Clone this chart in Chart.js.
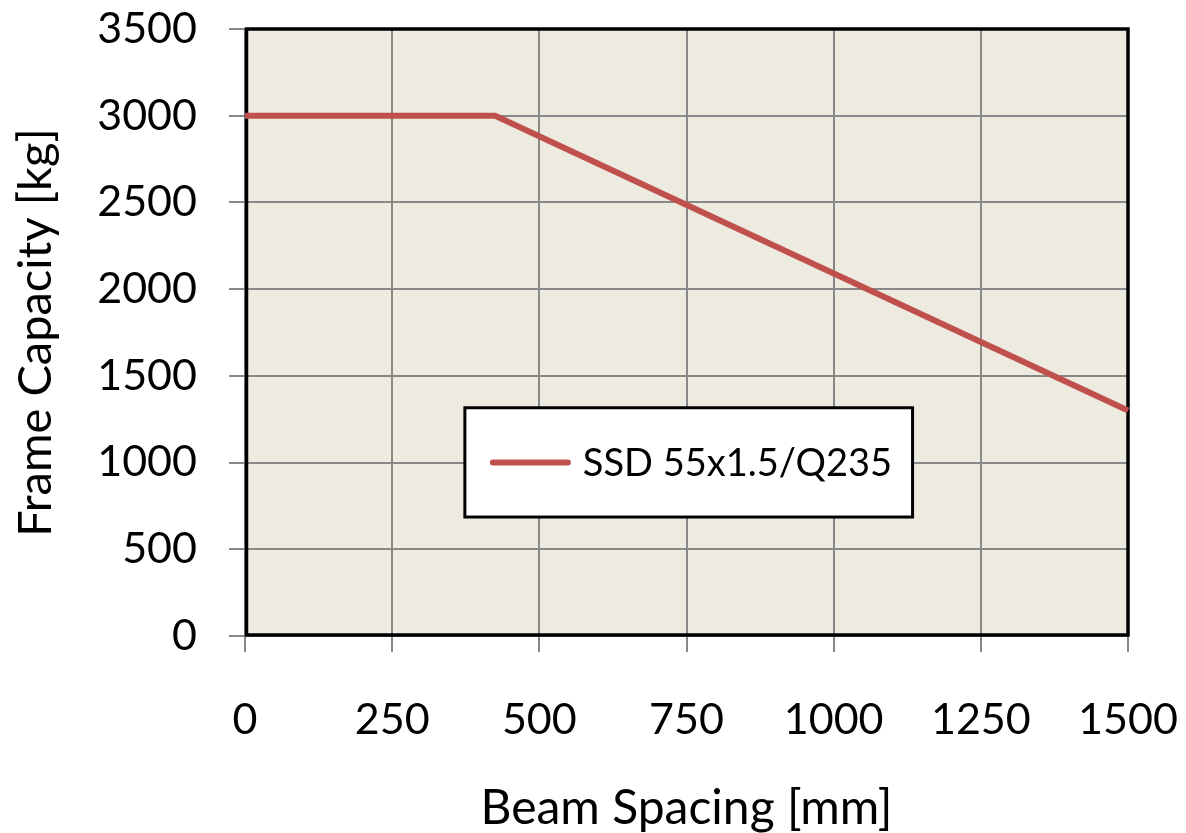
<!DOCTYPE html>
<html>
<head>
<meta charset="utf-8">
<script src="https://cdn.jsdelivr.net/npm/chart.js@4"></script>
<style>
  html, body { margin: 0; padding: 0; background: #fff; }
  #wrap { width: 1186px; height: 833px; }
</style>
</head>
<body>
<div id="wrap"><canvas id="capacityChart" width="1186" height="833"></canvas></div>
<script>
// data
const beamSpacing = [0, 425, 1500];
const frameCapacity = [3000, 3000, 1300];
const seriesLabel = 'SSD 55x1.5/Q235';
const xTicks = [0, 250, 500, 750, 1000, 1250, 1500];
const yTicks = [0, 500, 1000, 1500, 2000, 2500, 3000, 3500];

const FONT = 'Lato, "Open Sans", sans-serif';
const LINE_RED = '#C0504D';
const GRID = '#888888';

const plotFrame = {
  id: 'plotFrame',
  beforeDraw(chart) {
    const { ctx, chartArea: a } = chart;
    ctx.save();
    ctx.fillStyle = '#fff';
    ctx.fillRect(0, 0, chart.width, chart.height);
    ctx.fillStyle = '#EDEADF';
    ctx.fillRect(a.left, a.top, a.right - a.left, a.bottom - a.top);
    ctx.restore();
  },
  beforeDatasetsDraw(chart) {
    const { ctx, chartArea: a } = chart;
    ctx.save();
    ctx.strokeStyle = '#000';
    ctx.lineWidth = 3.5;
    ctx.strokeRect(a.left + 1.5, a.top, a.right - a.left - 1.5, a.bottom - a.top - 1);
    ctx.restore();
  }
};

// legend drawn as a framed box inside the plot
const boxLegend = {
  id: 'boxLegend',
  afterDatasetsDraw(chart) {
    const { ctx, chartArea: a } = chart;
    const w = a.right - a.left, h = a.bottom - a.top;
    const bx = a.left + w * 0.249, by = a.top + h * 0.624;
    const bw = w * 0.507, bh = h * 0.18;
    ctx.save();
    ctx.fillStyle = '#fff';
    ctx.fillRect(bx, by, bw, bh);
    ctx.strokeStyle = '#000';
    ctx.lineWidth = 3;
    ctx.strokeRect(bx, by, bw, bh);
    const ds = chart.data.datasets[0];
    const cy = by + bh * 0.5;
    ctx.strokeStyle = ds.borderColor;
    ctx.lineWidth = 6;
    ctx.lineCap = 'round';
    ctx.beginPath();
    ctx.moveTo(bx + 28, cy);
    ctx.lineTo(bx + 103, cy);
    ctx.stroke();
    ctx.fillStyle = '#000';
    ctx.font = '38px ' + FONT;
    ctx.textBaseline = 'alphabetic';
    ctx.fillText(ds.label, bx + 118, cy + 14);
    ctx.restore();
  }
};

const plain = v => String(v);

const ctx = document.getElementById('capacityChart').getContext('2d');
const capacityChart = new Chart(ctx, {
  type: 'line',
  data: {
    datasets: [{
      label: seriesLabel,
      data: beamSpacing.map((x, i) => ({ x: x, y: frameCapacity[i] })),
      borderColor: LINE_RED,
      backgroundColor: LINE_RED,
      borderWidth: 6,
      pointRadius: 0,
      tension: 0,
      clip: false
    }]
  },
  options: {
    responsive: false,
    animation: false,
    layout: { padding: { top: 29, right: 58, bottom: 0, left: 0 } },
    plugins: {
      legend: { display: false },
      tooltip: { enabled: false }
    },
    scales: {
      x: {
        type: 'linear',
        min: 0,
        max: 1500,
        afterBuildTicks: axis => { axis.ticks = xTicks.map(v => ({ value: v })); },
        afterFit: axis => {
          axis.height = 197;
          axis.paddingLeft = 0;
          axis.paddingRight = 0;
        },
        grid: { color: GRID, lineWidth: 2, tickLength: 16 },
        border: { color: GRID, width: 2 },
        ticks: {
          color: '#000',
          font: { family: FONT, size: 43 },
          padding: 42,
          maxRotation: 0,
          autoSkip: false,
          callback: plain
        },
        title: {
          display: true,
          text: 'Beam Spacing [mm]',
          color: '#000',
          font: { family: FONT, size: 48, lineHeight: 1.0 },
          padding: 0
        }
      },
      y: {
        min: 0,
        max: 3500,
        afterBuildTicks: axis => { axis.ticks = yTicks.map(v => ({ value: v })); },
        afterFit: axis => {
          axis.width = 245;
          axis.paddingTop = 0;
          axis.paddingBottom = 0;
        },
        grid: { color: GRID, lineWidth: 2, tickLength: 16 },
        border: { color: GRID, width: 2 },
        ticks: {
          color: '#000',
          font: { family: FONT, size: 43 },
          padding: 32,
          autoSkip: false,
          callback: plain
        },
        title: {
          display: true,
          text: 'Frame Capacity [kg]',
          color: '#000',
          font: { family: FONT, size: 47, lineHeight: 1.0 },
          padding: { top: 12, bottom: 0 }
        }
      }
    }
  },
  plugins: [plotFrame, boxLegend]
});
</script>
</body>
</html>
